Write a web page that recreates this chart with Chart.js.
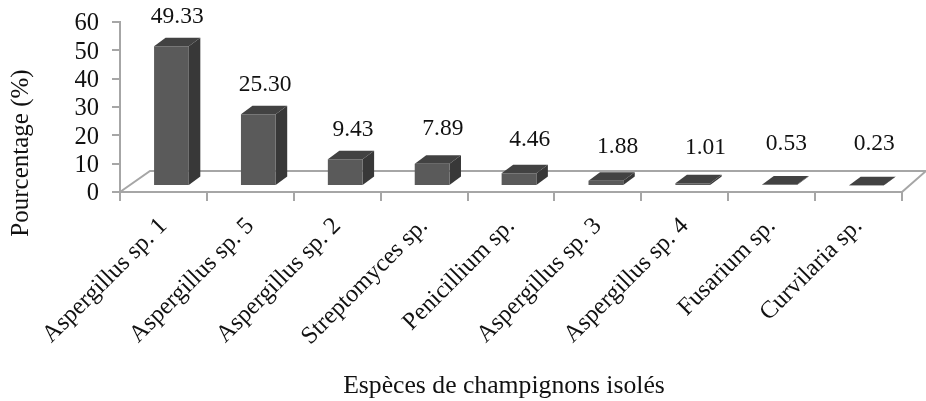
<!DOCTYPE html>
<html><head><meta charset="utf-8">
<style>html,body{margin:0;padding:0;background:#fff}canvas{display:block}</style>
<script src="https://cdn.jsdelivr.net/npm/chart.js@4"></script></head>
<body><canvas id="c" width="926" height="401"></canvas>
<script>
const categories = ["Aspergillus sp. 1","Aspergillus sp. 5","Aspergillus sp. 2","Streptomyces sp.","Penicillium sp.","Aspergillus sp. 3","Aspergillus sp. 4","Fusarium sp.","Curvilaria sp."];
const values = [49.33,25.30,9.43,7.89,4.46,1.88,1.01,0.53,0.23];
const valueLabels = ["49.33","25.30","9.43","7.89","4.46","1.88","1.01","0.53","0.23"];
const labelLift = [0,0,0,5,4,4,6,11,12];
const labelNudge = [0,1,2,5,5,6,7,1,2];
const xTitle = 'Espèces de champignons isolés';
const yTitle = 'Pourcentage (%)';

const FONT = '"Liberation Serif","Times New Roman",serif';
const DX = 11.5, DY = 8.5, SHIFT_X = 8, SHIFT_Y = -6;
function poly(ctx, pts, fill){ctx.beginPath();pts.forEach((p,i)=>i?ctx.lineTo(p[0],p[1]):ctx.moveTo(p[0],p[1]));ctx.closePath();ctx.fillStyle=fill;ctx.fill();}
const threeD = {
  id:'threeD',
  beforeDatasetsDraw(chart){
    const {ctx,chartArea:a} = chart;
    ctx.save();
    ctx.strokeStyle='#a6a6a6';ctx.lineWidth=2;
    ctx.beginPath();
    ctx.moveTo(a.left,a.bottom);ctx.lineTo(a.left+30,a.bottom-21);ctx.lineTo(a.right+24,a.bottom-21);ctx.lineTo(a.right,a.bottom);
    ctx.stroke();
    ctx.restore();
  },
  beforeDatasetDraw(chart){
    const {ctx} = chart;
    ctx.save();ctx.translate(SHIFT_X,SHIFT_Y);
    chart.getDatasetMeta(0).data.forEach(b=>{
      const l=b.x-b.width/2,r=b.x+b.width/2;
      poly(ctx,[[r,b.y],[r+DX,b.y-DY],[r+DX,b.base-DY],[r,b.base]],'#383838');
      poly(ctx,[[l,b.y],[l+DX,b.y-DY],[r+DX,b.y-DY],[r,b.y]],'#424242');
    });
  },
  afterDatasetDraw(chart){
    const {ctx} = chart;
    ctx.fillStyle='#111';ctx.font='23.5px '+FONT;ctx.textAlign='center';ctx.textBaseline='middle';
    chart.getDatasetMeta(0).data.forEach((b,i)=>{
      ctx.fillText(valueLabels[i],b.x+DX/2+labelNudge[i],b.y-DY-21-labelLift[i]);
    });
    ctx.restore();
  },
  afterDraw(chart){
    const {ctx} = chart;
    ctx.save();
    ctx.fillStyle='#111';ctx.textAlign='center';ctx.textBaseline='middle';
    ctx.font='25.7px '+FONT;
    ctx.fillText(xTitle,504,386);
    ctx.translate(21,153);ctx.rotate(-Math.PI/2);
    ctx.font='25px '+FONT;
    ctx.fillText(yTitle,0,0);
    ctx.restore();
  }
};
new Chart(document.getElementById('c'),{
  type:'bar',
  data:{labels:categories,datasets:[{data:values,backgroundColor:'#5a5a5a',barPercentage:0.4,categoryPercentage:1}]},
  plugins:[threeD],
  options:{
    responsive:false,animation:false,
    layout:{padding:{top:22,right:24,left:0,bottom:0}},
    plugins:{legend:{display:false},tooltip:{enabled:false}},
    scales:{
      x:{
        offset:true,
        grid:{drawOnChartArea:false,offset:true,color:'#a6a6a6',lineWidth:2,tickLength:9,drawTicks:true},
        border:{color:'#a6a6a6',width:2},
        ticks:{color:'#111',font:{family:FONT,size:24.5},minRotation:45,maxRotation:45,autoSkip:false,padding:11},
        afterFit(s){s.height=209;s.paddingLeft=0;s.paddingRight=0;}
      },
      y:{
        min:0,max:60,
        grid:{drawOnChartArea:false,color:'#a6a6a6',lineWidth:2,tickLength:8},
        border:{color:'#a6a6a6',width:2},
        ticks:{stepSize:10,autoSkip:false,color:'#111',font:{family:FONT,size:24.5},padding:13,labelOffset:2},
        afterFit(s){s.width=120;s.paddingTop=0;s.paddingBottom=0;}
      }
    }
  }
});
</script></body></html>
